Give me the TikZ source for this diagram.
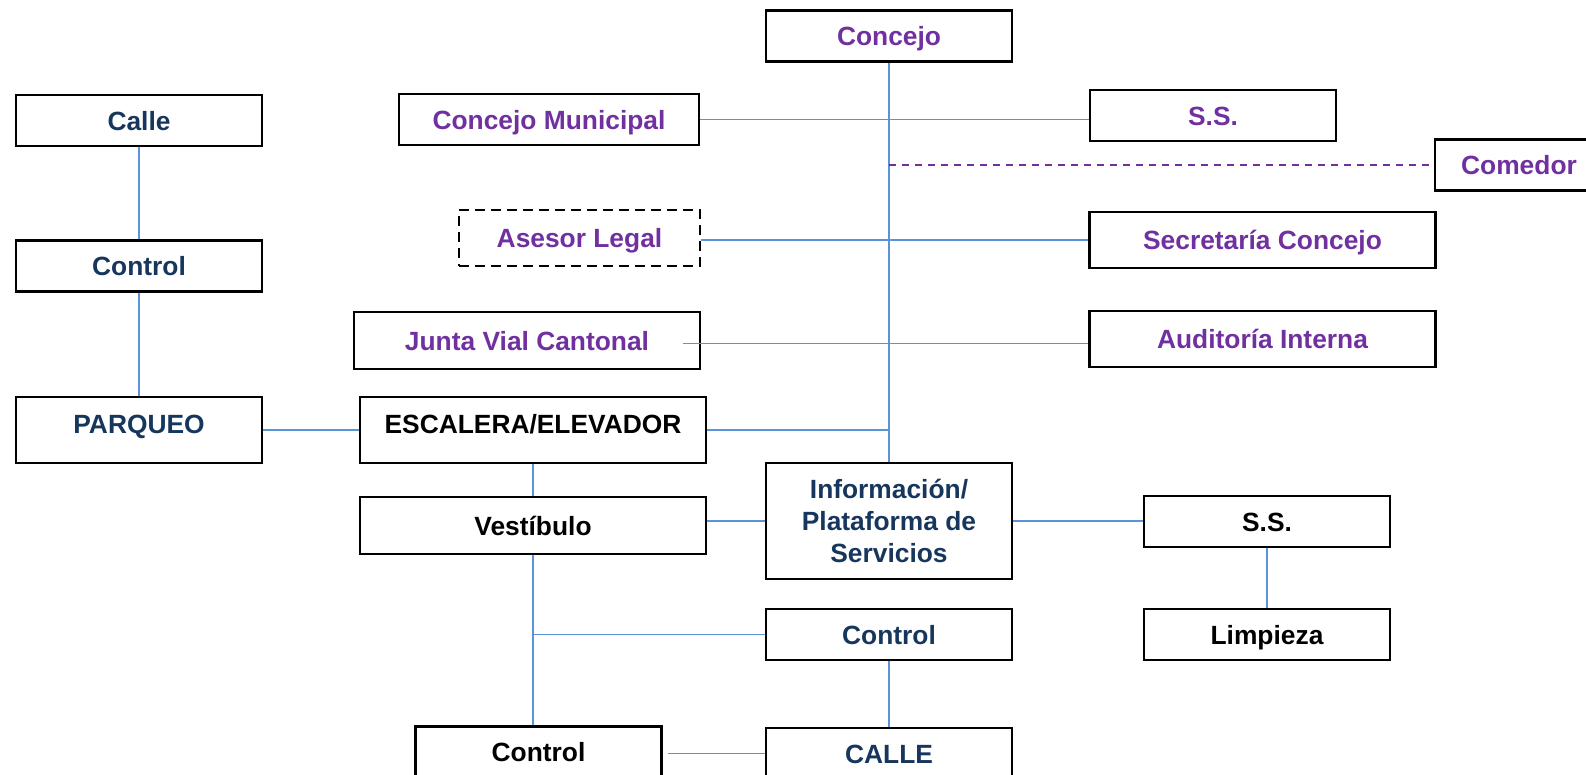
\documentclass[tikz,border=0pt]{standalone}
\usepackage{fontspec}
\setmainfont{Liberation Sans}
\usepackage{xcolor}
\definecolor{flpurple}{RGB}{112,48,160}
\definecolor{flnavy}{RGB}{23,54,93}
\definecolor{flblue}{RGB}{91,148,214}
\usetikzlibrary{calc}

\begin{document}
\begin{tikzpicture}[
  flbox/.style={draw,line width=1.3pt,minimum width=4.92cm,minimum height=1.02cm,
    align=center,font=\fontsize{15}{18}\selectfont\bfseries,inner sep=2pt,
    text height=0.38cm,text depth=0cm},
  flwide/.style={flbox,minimum width=6.92cm,minimum height=1.13cm},
  fltall/.style={text height=0.38cm,text depth=0.26cm,minimum height=1.31cm},
  fllink/.style={flblue,line width=1pt},
  fldash/.style={flpurple,line width=1pt,dash pattern=on 0.14cm off 0.12cm}
]
  \clip (0,0) rectangle (31.72,-15.5);

  % Left column: street access
  \node[flbox,text=flnavy] (calle) at (2.78,-2.41) {Calle};
  \node[flbox,text=flnavy] (ctrlL) at (2.78,-5.32) {Control};
  \node[flbox,fltall,text=flnavy] (parqueo) at (2.78,-8.60) {PARQUEO};

  % Council spine
  \node[flbox,text=flpurple] (concejo) at (17.78,-0.72) {Concejo};
  \node[flbox,minimum width=6.01cm,text=flpurple] (ccmun) at (10.98,-2.39) {Concejo Municipal};
  \node[flbox,text=flpurple] (ssTop) at (24.26,-2.31) {S.S.};
  \node[flbox,minimum width=3.36cm,text=flpurple] (comedor) at (30.38,-3.30) {Comedor};
  \node[flbox,dash pattern=on 0.2cm off 0.12cm,minimum width=4.82cm,minimum height=1.12cm,
    text=flpurple] (asesor) at (11.59,-4.76) {Asesor Legal};
  \node[flwide,text=flpurple] (secretaria) at (25.25,-4.80) {Secretaría Concejo};
  \node[flwide,text=flpurple] (junta) at (10.54,-6.81) {Junta Vial Cantonal};
  \node[flwide,text=flpurple] (auditoria) at (25.25,-6.78) {Auditoría Interna};

  % Ground floor
  \node[flwide,fltall] (escalera) at (10.66,-8.60) {ESCALERA/ELEVADOR};
  \node[flwide] (vestibulo) at (10.66,-10.51) {Vestíbulo};
  \node[draw,line width=1.3pt,minimum width=4.92cm,minimum height=2.33cm,align=center,
    font=\fontsize{15}{18}\selectfont\bfseries,text=flnavy] (info) at (17.78,-10.42)
    {Información/\\Plataforma de\\Servicios};
  \node[flbox] (sslow) at (25.34,-10.43) {S.S.};
  \node[flbox] (limpieza) at (25.34,-12.69) {Limpieza};
  \node[flbox,text=flnavy] (ctrlM) at (17.78,-12.69) {Control};
  \node[flbox] (ctrlB) at (10.77,-15.04) {Control};
  \node[flbox,text=flnavy] (calle2) at (17.78,-15.07) {CALLE};

  % Links
  \draw[fllink] (calle) -- (ctrlL);
  \draw[fllink] (ctrlL) -- (parqueo);
  \draw[fllink] (parqueo) -- (escalera);
  \draw[fllink] (concejo) -- (info);
  \draw[fllink] (escalera.east) -- (escalera.east -| concejo);
  \draw[fllink] (ccmun.east) -- (ccmun.east -| ssTop.west);
  \draw[fldash] (comedor.west -| concejo) -- (comedor.west);
  \draw[fllink] (secretaria.west) -- (secretaria.west -| asesor.east);
  \draw[fllink] ($(auditoria.west)+(0,-0.09)$) -- ($(auditoria.west -| junta.east)+(-0.36,-0.09)$);
  \draw[fllink] (escalera) -- (vestibulo);
  \draw[fllink] (info.west) -- (info.west -| vestibulo.east);
  \draw[fllink] (info.east) -- (info.east -| sslow.west);
  \draw[fllink] (sslow) -- (limpieza);
  \draw[fllink] (vestibulo.south) -- (vestibulo.south |- ctrlB.north);
  \draw[fllink] (ctrlM.west) -- (ctrlM.west -| vestibulo.south);
  \draw[fllink] (ctrlM) -- (calle2);
  \draw[fllink] ($(ctrlB.east |- calle2.west)+(0.1,0)$) -- (calle2.west);
\end{tikzpicture}
\end{document}
